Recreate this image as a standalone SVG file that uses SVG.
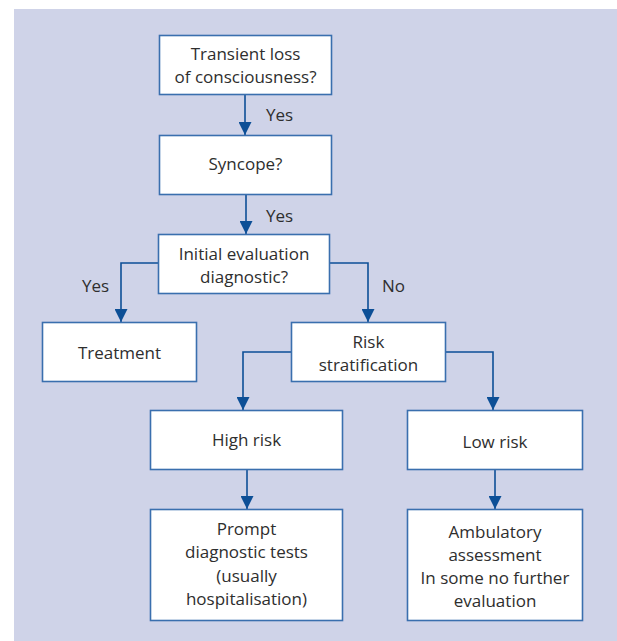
<svg xmlns="http://www.w3.org/2000/svg" width="617" height="641" viewBox="0 0 617 641">
<style>
.box{fill:#fff;stroke:#3a6fae;stroke-width:1.6}
.t{font-family:"Open Sans","Noto Sans",sans-serif;font-size:17px;fill:#2e2e2e;text-anchor:middle}
.l{font-family:"Open Sans","Noto Sans",sans-serif;font-size:17px;fill:#2e2e2e}
.c{fill:none;stroke:#0d4f96;stroke-width:1.6}
</style>
<defs>
<marker id="ah" viewBox="0 0 13 13" refX="13" refY="6.5" markerWidth="13" markerHeight="13" markerUnits="userSpaceOnUse" orient="auto">
<path d="M0,0 L13,6.5 L0,13 Z" fill="#0d4f96"/>
</marker>
</defs>
<rect x="14" y="9" width="603" height="632" fill="#cfd3e8"/>
<g id="connectors">
<path class="c" d="M245,94 V135" marker-end="url(#ah)"/>
<path class="c" d="M246,194 V234" marker-end="url(#ah)"/>
<path class="c" d="M158,263 H121 V322" marker-end="url(#ah)"/>
<path class="c" d="M330,263 H368 V322" marker-end="url(#ah)"/>
<path class="c" d="M292,352 H243 V410" marker-end="url(#ah)"/>
<path class="c" d="M446,352 H493 V410" marker-end="url(#ah)"/>
<path class="c" d="M247,470 V509" marker-end="url(#ah)"/>
<path class="c" d="M495,470 V509" marker-end="url(#ah)"/>
<text class="l" x="266" y="121">Yes</text>
<text class="l" x="266" y="222">Yes</text>
<text class="l" x="82" y="292">Yes</text>
<text class="l" x="382" y="292">No</text>
</g>
<g id="n1">
<rect class="box" x="159.5" y="35.5" width="172" height="59"/>
<text class="t" x="245.5" y="60">Transient loss</text>
<text class="t" x="245.5" y="83">of consciousness?</text>
</g>
<g id="n2">
<rect class="box" x="159.5" y="135.5" width="172" height="59"/>
<text class="t" x="245.5" y="170">Syncope?</text>
</g>
<g id="n3">
<rect class="box" x="158.5" y="234.5" width="171" height="59"/>
<text class="t" x="244" y="260">Initial evaluation</text>
<text class="t" x="244" y="283">diagnostic?</text>
</g>
<g id="n4">
<rect class="box" x="42.5" y="322.5" width="154" height="59"/>
<text class="t" x="119.5" y="359">Treatment</text>
</g>
<g id="n5">
<rect class="box" x="291.5" y="322.5" width="154" height="59"/>
<text class="t" x="368.5" y="348">Risk</text>
<text class="t" x="368.5" y="371">stratification</text>
</g>
<g id="n6">
<rect class="box" x="150.5" y="410.5" width="192" height="59"/>
<text class="t" x="246.5" y="446">High risk</text>
</g>
<g id="n7">
<rect class="box" x="407.5" y="410.5" width="175" height="59"/>
<text class="t" x="495" y="448">Low risk</text>
</g>
<g id="n8">
<rect class="box" x="150.5" y="509.5" width="192" height="111"/>
<text class="t" x="246.5" y="535">Prompt</text>
<text class="t" x="246.5" y="558">diagnostic tests</text>
<text class="t" x="246.5" y="582">(usually</text>
<text class="t" x="246.5" y="605">hospitalisation)</text>
</g>
<g id="n9">
<rect class="box" x="407.5" y="509.5" width="175" height="111"/>
<text class="t" x="495" y="538">Ambulatory</text>
<text class="t" x="495" y="561">assessment</text>
<text class="t" x="495" y="584">In some no further</text>
<text class="t" x="495" y="607">evaluation</text>
</g>
</svg>
